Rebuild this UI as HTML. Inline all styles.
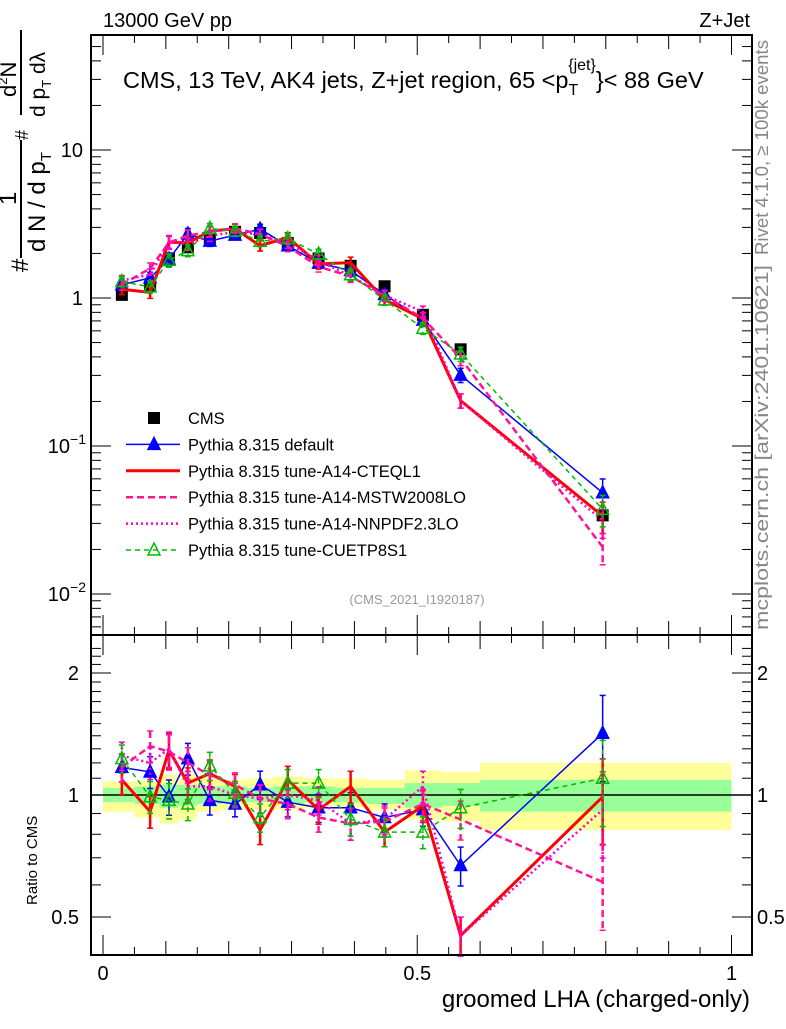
<!DOCTYPE html>
<html><head><meta charset="utf-8"><style>
body{margin:0;background:#fff;}
svg text{font-family:"Liberation Sans",sans-serif;}
</style></head><body>
<svg id="chart" width="786" height="1024" xmlns="http://www.w3.org/2000/svg">
<rect x="0" y="0" width="786" height="1024" fill="#fff"/>
<g id="bands"></g>
<g id="grid"></g>
<g id="series"></g>
<g id="axes"></g>
<text x="103" y="27" font-size="20">13000 GeV pp</text>
<text x="750" y="27" font-size="20" text-anchor="end">Z+Jet</text>
<text x="123" y="88" font-size="23.5">CMS, 13 TeV, AK4 jets, Z+jet region, 65 &lt;p<tspan font-size="16" dy="7">T</tspan><tspan font-size="16" dy="-25" dx="-10">{jet}</tspan><tspan dy="18">}&lt; 88 GeV</tspan></text>
<text x="417" y="604" font-size="13" fill="#999" text-anchor="middle">(CMS_2021_I1920187)</text>
<text transform="translate(768,255) rotate(-90)" font-size="18" fill="#888" textLength="215" lengthAdjust="spacingAndGlyphs">Rivet 4.1.0, ≥ 100k events</text>
<text transform="translate(768,630) rotate(-90)" font-size="18" fill="#888" textLength="365" lengthAdjust="spacingAndGlyphs">mcplots.cern.ch [arXiv:2401.10621]</text>
<g>
 <text transform="translate(28,272) rotate(-90)" font-size="24">#</text>
 <line x1="21" y1="258" x2="21" y2="140" stroke="#000" stroke-width="2"/>
 <text transform="translate(16,205) rotate(-90)" font-size="24">1</text>
 <text transform="translate(45,252) rotate(-90)" font-size="24">d N / d p<tspan font-size="15" dy="6">T</tspan></text>
 <text transform="translate(28,140) rotate(-90)" font-size="18">#</text>
 <line x1="21" y1="115" x2="21" y2="30" stroke="#000" stroke-width="2"/>
 <text transform="translate(16,97) rotate(-90)" font-size="22">d<tspan font-size="13" dy="-9">2</tspan><tspan dy="9">N</tspan></text>
 <text transform="translate(45,117) rotate(-90)" font-size="21">d p<tspan font-size="13" dy="6">T</tspan><tspan dy="-6"> dλ</tspan></text>
</g>
<text transform="translate(37,905) rotate(-90)" font-size="15">Ratio to CMS</text>
<text x="750" y="1007" font-size="24" text-anchor="end">groomed LHA (charged-only)</text>
<g id="legend"></g>
</svg>
<script>
// ---- data ----
const xVals = [0.030,0.075,0.105,0.135,0.170,0.210,0.250,0.294,0.343,0.394,0.448,0.509,0.569,0.795];
const binEdges = [0,0.05,0.09,0.12,0.15,0.19,0.23,0.27,0.32,0.37,0.42,0.48,0.54,0.60,1.0];
const cmsVals = [1.05,1.2,1.85,2.2,2.5,2.8,2.75,2.35,1.85,1.65,1.2,0.77,0.45,0.034];
const yellowUp = [1.08,1.08,1.12,1.14,1.11,1.09,1.10,1.11,1.10,1.10,1.09,1.15,1.14,1.20];
const yellowLo = [0.91,0.88,0.85,0.87,0.91,0.92,0.92,0.92,0.93,0.93,0.92,0.87,0.86,0.82];
const greenUp = [1.04,1.05,1.06,1.06,1.05,1.05,1.04,1.05,1.05,1.04,1.04,1.07,1.07,1.09];
const greenLo = [0.96,0.95,0.93,0.94,0.95,0.96,0.96,0.95,0.96,0.96,0.95,0.93,0.94,0.91];
const ratioDefault = [1.17,1.14,0.99,1.23,0.97,0.95,1.06,0.96,0.93,0.93,0.88,0.92,0.67,1.42];
const ratioCTEQ = [1.09,0.91,1.29,1.07,1.13,1.05,0.82,1.09,0.92,1.05,0.81,0.94,0.45,0.99];
const ratioMSTW = [1.17,1.32,1.28,1.20,1.12,1.06,0.98,0.95,0.88,0.85,0.86,0.95,0.87,0.61];
const ratioNNPDF = [1.25,1.20,1.30,1.05,1.05,1.00,0.98,1.00,0.97,0.85,0.87,1.05,0.45,0.92];
const ratioCUETP = [1.23,0.99,0.97,0.95,1.18,1.01,0.88,1.07,1.07,0.87,0.81,0.81,0.93,1.10];
const relErr = [0.08,0.09,0.10,0.09,0.08,0.07,0.08,0.08,0.08,0.09,0.08,0.09,0.11,0.24];
const mainTicks = [0.01,0.1,1,10];
const mainTickLabels = ["10","10","1","10"];
const mainTickExp = ["−2","−1","",""];
const ratioTicks = [0.5,1,2];
const ratioTickLabels = ["0.5","1","2"];
const xTicks = [0,0.5,1];
const xTickLabels = ["0","0.5","1"];

// ---- axes ----
const L=91,R=752,T=35,MB=635,B=955;
const X=v=>103+v*628.5;
const Y=v=>298-148*Math.log10(v);
const YR=v=>795-122*Math.log2(v);
const NS="http://www.w3.org/2000/svg";
function mk(tag,attrs,parent){const e=document.createElementNS(NS,tag);for(const k in attrs)e.setAttribute(k,attrs[k]);parent.appendChild(e);return e;}
const axes=document.getElementById('axes');
mk('rect',{x:L,y:T,width:R-L,height:B-T,fill:'none',stroke:'#000','stroke-width':2},axes);
mk('line',{x1:L,y1:MB,x2:R,y2:MB,stroke:'#000','stroke-width':2},axes);
// bands
const bands=document.getElementById('bands');
for(let i=0;i<yellowUp.length;i++){
  const x0=X(binEdges[i]),x1=X(binEdges[i+1]);
  const y=mk('rect',{x:x0,y:YR(yellowUp[i]),width:x1-x0,height:YR(yellowLo[i])-YR(yellowUp[i]),fill:'#ffff99'},bands);
  
  
  const g=mk('rect',{x:x0,y:YR(greenUp[i]),width:x1-x0,height:YR(greenLo[i])-YR(greenUp[i]),fill:'#99ff99'},bands);
  
  
}
mk('line',{x1:L,y1:YR(1),x2:R,y2:YR(1),stroke:'#000','stroke-width':1.5},bands);
// main y ticks
for(let d=-3;d<=2;d++)for(let m=1;m<10;m++){
  const v=m*Math.pow(10,d),y=Y(v);if(y<T||y>MB)continue;
  const len=m==1?20:10;
  mk('line',{x1:L,y1:y,x2:L+len,y2:y,stroke:'#000','stroke-width':1},axes);
  mk('line',{x1:R,y1:y,x2:R-len,y2:y,stroke:'#000','stroke-width':1},axes);
}
mainTicks.forEach((v,i)=>{
  const t=mk('text',{x:mainTickExp[i]?66:83,y:Y(v)+7,'font-size':20,'text-anchor':'end'},axes);
  t.textContent=mainTickLabels[i];
  if(mainTickExp[i]){const s=mk('tspan',{'font-size':14,dy:-9},t);s.textContent=mainTickExp[i];t.setAttribute('x',86);}
  
  
});
// ratio ticks
for(let v=0.5;v<=2.4;v+=0.1){const y=YR(v);if(y<MB||y>B)continue;
  const major=[0.5,1,2].some(a=>Math.abs(a-v)<1e-6);const len=major?20:10;
  mk('line',{x1:L,y1:y,x2:L+len,y2:y,stroke:'#000'},axes);mk('line',{x1:R,y1:y,x2:R-len,y2:y,stroke:'#000'},axes);}
ratioTicks.forEach((v,i)=>{
  const a=mk('text',{x:79,y:YR(v)+7,'font-size':20,'text-anchor':'end'},axes);a.textContent=ratioTickLabels[i];
  
  
  const b=mk('text',{x:757,y:YR(v)+7,'font-size':20},axes);b.textContent=ratioTickLabels[i];
  
  
});
// x ticks
for(let k=0;k<=20;k++){const v=k*0.05,x=X(v);const len=k%10==0?20:(k%2==0?14:8);
  [[B,B-len],[MB,MB-len],[MB,MB+len],[T,T+len]].forEach(p=>mk('line',{x1:x,y1:p[0],x2:x,y2:p[1],stroke:'#000'},axes));}
xTicks.forEach((v,i)=>{const t=mk('text',{x:X(v),y:980,'font-size':20,'text-anchor':'middle'},axes);t.textContent=xTickLabels[i];
  
  });
// series
const ser=document.getElementById('series');
const defs=[
 {name:'default',r:ratioDefault,c:'#0000ff',w:1.5,dash:'',mk:'tri'},
 {name:'cteql1',r:ratioCTEQ,c:'#ff0000',w:3,dash:'',mk:'none'},
 {name:'mstw2008lo',r:ratioMSTW,c:'#ff1493',w:2.5,dash:'7,4',mk:'none'},
 {name:'nnpdf23lo',r:ratioNNPDF,c:'#ff00cc',w:2.5,dash:'2,3',mk:'none'},
 {name:'cuetp8s1',r:ratioCUETP,c:'#00bb00',w:1.5,dash:'5,4',mk:'otri'}];
function tri(g,x,y,c,open){mk('polygon',{points:`${x},${y-7} ${x-6},${y+5} ${x+6},${y+5}`,fill:open?'none':c,stroke:c,'stroke-width':1.5},g);}
// CMS
const cg=mk('g',{},ser);
cmsVals.forEach((v,i)=>{mk('rect',{x:X(xVals[i])-6,y:Y(v)-6,width:12,height:12,fill:'#000'},cg);});
defs.forEach(s=>{
  ['main','ratio'].forEach(panel=>{
    const g=mk('g',{},ser);
    
    
    const f=panel=='main'?(i=>Y(cmsVals[i]*s.r[i])):(i=>YR(s.r[i]));
    const fe=panel=='main'?((i,k)=>Y(cmsVals[i]*s.r[i]*(1+k*relErr[i]))):((i,k)=>YR(s.r[i]*(1+k*relErr[i])));
    const pts=xVals.map((x,i)=>X(x)+','+f(i)).join(' ');
    mk('polyline',{points:pts,fill:'none',stroke:s.c,'stroke-width':s.w,'stroke-dasharray':s.dash},g);
    xVals.forEach((x,i)=>{const px=X(x);
      mk('line',{x1:px,y1:fe(i,1),x2:px,y2:fe(i,-1),stroke:s.c,'stroke-width':s.w>2?2.5:1.5,'stroke-dasharray':s.dash},g);
      mk('line',{x1:px-3,y1:fe(i,1),x2:px+3,y2:fe(i,1),stroke:s.c,'stroke-width':1.5},g);
      mk('line',{x1:px-3,y1:fe(i,-1),x2:px+3,y2:fe(i,-1),stroke:s.c,'stroke-width':1.5},g);
      if(s.mk=='tri')tri(g,px,f(i),s.c,false);
      if(s.mk=='otri')tri(g,px,f(i),s.c,true);});
  });
});
// legend
const lg=document.getElementById('legend');
const legNames=['CMS','Pythia 8.315 default','Pythia 8.315 tune-A14-CTEQL1','Pythia 8.315 tune-A14-MSTW2008LO','Pythia 8.315 tune-A14-NNPDF2.3LO','Pythia 8.315 tune-CUETP8S1'];
legNames.forEach((n,i)=>{const y=418+i*26.4;
  const g=mk('g',{},lg);
  
  
  if(i==0)mk('rect',{x:148,y:y-6,width:12,height:12,fill:'#000'},g);
  else{const s=defs[i-1];mk('line',{x1:126,y1:y,x2:180,y2:y,stroke:s.c,'stroke-width':s.w,'stroke-dasharray':s.dash},g);
    if(s.mk=='tri')tri(g,154,y,s.c,false);if(s.mk=='otri')tri(g,154,y,s.c,true);}
  const t=mk('text',{x:188,y:y+6,'font-size':16.5},g);t.textContent=n;});
</script>
</body></html>
